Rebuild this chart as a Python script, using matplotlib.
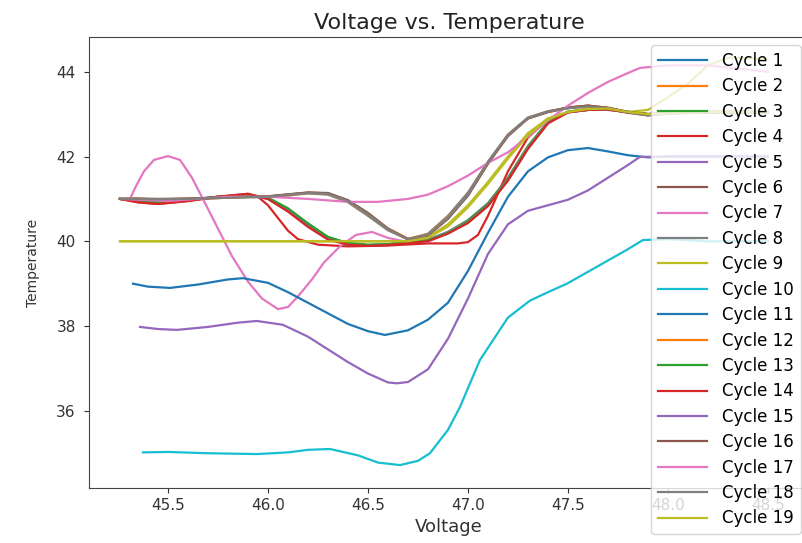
import matplotlib
matplotlib.use('Agg')
import matplotlib.pyplot as plt

# voltage grid shared by the cycles in the main bundle
volt_grid = [45.26, 45.35, 45.45, 45.6, 45.75, 45.9, 46.0, 46.1, 46.2, 46.3,
             46.4, 46.5, 46.6, 46.7, 46.8, 46.9, 47.0, 47.1, 47.2, 47.3,
             47.4, 47.5, 47.6, 47.7, 47.8, 47.9, 48.0, 48.2, 48.5]

temp_c1 = [41.0, 40.96, 40.93, 40.98, 41.05, 41.1, 41.0, 40.72, 40.36, 40.06, 39.94, 39.9, 39.92, 39.97,
           40.02, 40.2, 40.45, 40.85, 41.45, 42.2, 42.8, 43.05, 43.1, 43.12, 43.05, 43.0, 43.03, 43.05, 43.05]
temp_c2 = [41.0, 41.0, 40.98, 41.0, 41.03, 41.05, 41.05, 41.1, 41.14, 41.12, 40.95, 40.66, 40.3, 40.06,
           40.15, 40.55, 41.1, 41.85, 42.5, 42.9, 43.05, 43.15, 43.2, 43.15, 43.05, 42.98, 43.02, 43.05, 43.05]
temp_c3 = [41.0, 40.95, 40.92, 40.97, 41.05, 41.1, 41.02, 40.76, 40.42, 40.1, 39.95, 39.91, 39.93, 39.98,
           40.03, 40.22, 40.5, 40.9, 41.5, 42.25, 42.82, 43.06, 43.12, 43.13, 43.06, 43.0, 43.03, 43.05, 43.05]
temp_c5 = [41.0, 40.97, 40.95, 40.99, 41.04, 41.08, 41.01, 40.74, 40.38, 40.08, 39.95, 39.91, 39.93, 39.98,
           40.04, 40.22, 40.48, 40.88, 41.48, 42.22, 42.8, 43.04, 43.1, 43.11, 43.04, 43.0, 43.02, 43.04, 43.04]
temp_c6 = [41.0, 41.01, 41.0, 41.01, 41.03, 41.06, 41.06, 41.11, 41.15, 41.13, 40.96, 40.65, 40.28, 40.04,
           40.14, 40.54, 41.08, 41.83, 42.48, 42.9, 43.06, 43.16, 43.2, 43.14, 43.04, 42.97, 43.02, 43.05, 43.05]
temp_c8 = [41.0, 40.99, 40.98, 40.99, 41.02, 41.04, 41.04, 41.08, 41.13, 41.1, 40.92, 40.6, 40.26, 40.05,
           40.18, 40.6, 41.15, 41.88, 42.52, 42.92, 43.07, 43.14, 43.18, 43.12, 43.03, 42.97, 43.01, 43.04, 43.04]
temp_c12 = [41.0, 41.0, 40.99, 41.0, 41.02, 41.05, 41.05, 41.09, 41.14, 41.12, 40.94, 40.64, 40.3, 40.06,
            40.16, 40.56, 41.1, 41.84, 42.5, 42.9, 43.05, 43.15, 43.19, 43.14, 43.05, 42.98, 43.02, 43.05, 43.05]
temp_c13 = [41.0, 40.95, 40.93, 40.98, 41.05, 41.1, 41.03, 40.78, 40.42, 40.1, 39.96, 39.92, 39.93, 39.98,
            40.02, 40.2, 40.46, 40.86, 41.46, 42.2, 42.8, 43.05, 43.1, 43.12, 43.05, 43.0, 43.03, 43.05, 43.05]
temp_c14 = [41.0, 40.92, 40.88, 40.95, 41.05, 41.12, 41.0, 40.7, 40.34, 40.04, 39.92, 39.89, 39.91, 39.96,
            40.0, 40.18, 40.43, 40.83, 41.43, 42.18, 42.78, 43.04, 43.1, 43.11, 43.04, 43.0, 43.03, 43.05, 43.05]
temp_c16 = [41.0, 41.0, 40.99, 41.0, 41.03, 41.05, 41.06, 41.1, 41.15, 41.14, 40.97, 40.67, 40.3, 40.05,
            40.14, 40.53, 41.08, 41.84, 42.5, 42.9, 43.05, 43.15, 43.2, 43.15, 43.05, 42.98, 43.02, 43.05, 43.05]
temp_c18 = [41.0, 41.0, 40.99, 41.0, 41.02, 41.04, 41.05, 41.1, 41.14, 41.12, 40.95, 40.64, 40.29, 40.05,
            40.15, 40.55, 41.1, 41.85, 42.5, 42.9, 43.05, 43.14, 43.18, 43.14, 43.05, 42.98, 43.02, 43.05, 43.05]

# cycle 4: drops first, rises last
volt_c4 = [45.26, 45.35, 45.45, 45.6, 45.75, 45.9, 45.95, 46.0, 46.05, 46.1, 46.15, 46.25, 46.4, 46.6,
           46.8, 46.95, 47.0, 47.05, 47.1, 47.2, 47.3, 47.4, 47.5, 47.6, 47.7, 47.8, 47.9, 48.0, 48.2, 48.5]
temp_c4 = [41.0, 40.92, 40.88, 40.95, 41.05, 41.12, 41.05, 40.85, 40.55, 40.25, 40.05, 39.92, 39.88, 39.9,
           39.95, 39.95, 39.98, 40.15, 40.6, 41.65, 42.45, 42.88, 43.05, 43.1, 43.1, 43.05, 43.0, 43.02, 43.05, 43.05]

# cycle 7: oscillating
volt_c7 = [45.31, 45.34, 45.38, 45.43, 45.5, 45.56, 45.62, 45.68, 45.75, 45.82, 45.9, 45.97, 46.05, 46.1,
           46.15, 46.22, 46.28, 46.36, 46.44, 46.52, 46.6, 46.7, 46.8, 46.9, 47.0, 47.1, 47.2, 47.3, 47.4,
           47.5, 47.6, 47.7, 47.8, 47.9, 48.0, 48.2, 48.5]
temp_c7 = [41.0, 41.3, 41.65, 41.92, 42.01, 41.92, 41.5, 40.95, 40.3, 39.65, 39.05, 38.65, 38.4, 38.45,
           38.7, 39.1, 39.5, 39.88, 40.15, 40.22, 40.08, 39.98, 40.0, 40.2, 40.45, 40.85, 41.45, 42.2, 42.8,
           43.05, 43.1, 43.12, 43.05, 43.0, 43.03, 43.05, 43.05]

# cycles 9 and 19: flat at 40
volt_c9 = [45.26, 45.5, 45.8, 46.1, 46.4, 46.6, 46.7, 46.8, 46.9, 47.0, 47.1, 47.2, 47.3, 47.4, 47.5,
           47.6, 47.7, 47.8, 47.9, 48.0, 48.1, 48.2, 48.3, 48.5]
temp_c9 = [40.0, 40.0, 40.0, 40.0, 40.0, 40.0, 40.0, 40.1, 40.4, 40.85, 41.4, 42.0, 42.55, 42.9, 43.05,
           43.15, 43.15, 43.05, 43.1, 43.4, 43.72, 44.15, 44.33, 44.3]
temp_c19 = [40.0, 40.0, 40.0, 40.0, 40.0, 40.0, 40.0, 40.08, 40.35, 40.8, 41.35, 41.95, 42.5, 42.88, 43.05,
            43.12, 43.13, 43.05, 43.0, 43.02, 43.04, 43.05, 43.05, 43.05]

# cycle 10: lowest curve
volt_c10 = [45.375, 45.5, 45.7, 45.945, 46.1, 46.2, 46.31, 46.45, 46.55, 46.66, 46.75, 46.81, 46.9, 46.96,
            47.06, 47.2, 47.31, 47.4, 47.495, 47.645, 47.795, 47.875, 48.0, 48.2, 48.5]
temp_c10 = [35.02, 35.03, 35.0, 34.98, 35.02, 35.08, 35.1, 34.95, 34.78, 34.72, 34.82, 35.0, 35.55, 36.09,
            37.2, 38.2, 38.6, 38.8, 39.0, 39.4, 39.8, 40.03, 40.05, 40.0, 40.0]

# cycle 11
volt_c11 = [45.325, 45.4, 45.51, 45.65, 45.8, 45.875, 46.0, 46.1, 46.2, 46.3, 46.4, 46.5, 46.585, 46.7,
            46.8, 46.9, 47.0, 47.1, 47.2, 47.3, 47.4, 47.5, 47.6, 47.7, 47.8, 47.9, 48.0, 48.2, 48.5]
temp_c11 = [39.0, 38.93, 38.9, 38.98, 39.1, 39.13, 39.02, 38.8, 38.55, 38.3, 38.05, 37.88, 37.79, 37.9,
            38.15, 38.55, 39.3, 40.2, 41.05, 41.65, 41.98, 42.15, 42.2, 42.12, 42.03, 41.98, 42.0, 42.0, 42.0]

# cycle 15
volt_c15 = [45.36, 45.45, 45.545, 45.7, 45.85, 45.945, 46.075, 46.2, 46.3, 46.4, 46.5, 46.6, 46.645, 46.7,
            46.8, 46.9, 47.0, 47.1, 47.2, 47.3, 47.4, 47.5, 47.6, 47.7, 47.8, 47.86, 48.0, 48.2, 48.5]
temp_c15 = [37.98, 37.93, 37.91, 37.98, 38.08, 38.12, 38.03, 37.75, 37.45, 37.15, 36.88, 36.67, 36.65, 36.68,
            36.98, 37.7, 38.65, 39.7, 40.4, 40.72, 40.85, 40.98, 41.2, 41.5, 41.8, 41.99, 42.0, 42.0, 42.0]

# cycle 17: upper curve
volt_c17 = [45.26, 45.5, 45.8, 46.0, 46.2, 46.4, 46.55, 46.7, 46.8, 46.9, 47.0, 47.1, 47.2, 47.3, 47.4,
            47.5, 47.6, 47.7, 47.8, 47.86, 48.0, 48.2, 48.5]
temp_c17 = [41.0, 40.95, 41.05, 41.05, 41.0, 40.93, 40.93, 41.0, 41.1, 41.3, 41.55, 41.85, 42.1, 42.47, 42.85,
            43.2, 43.5, 43.76, 43.97, 44.09, 44.15, 44.15, 44.0]

cycles = [
    (volt_grid, temp_c1), (volt_grid, temp_c2), (volt_grid, temp_c3), (volt_c4, temp_c4),
    (volt_grid, temp_c5), (volt_grid, temp_c6), (volt_c7, temp_c7), (volt_grid, temp_c8),
    (volt_c9, temp_c9), (volt_c10, temp_c10), (volt_c11, temp_c11), (volt_grid, temp_c12),
    (volt_grid, temp_c13), (volt_grid, temp_c14), (volt_c15, temp_c15), (volt_grid, temp_c16),
    (volt_c17, temp_c17), (volt_grid, temp_c18), (volt_c9, temp_c19),
]

fig = plt.figure(figsize=(8.03, 5.43), dpi=100)
ax = fig.add_axes([0.1108, 0.1013, 0.8966, 0.8306])

for i, (v, t) in enumerate(cycles):
    ax.plot(v, t, label='Cycle {}'.format(i + 1), linewidth=1.6)

ax.set_xlim(45.105, 48.705)
ax.set_ylim(34.18, 44.82)
ax.set_xticks([45.5, 46.0, 46.5, 47.0, 47.5, 48.0, 48.5])
ax.set_yticks([36, 38, 40, 42, 44])
ax.tick_params(axis='both', labelsize=11, colors='#333333')
ax.tick_params(axis='y', pad=6)
for s in ax.spines.values():
    s.set_color('#444444')

ax.set_title('Voltage vs. Temperature', fontsize=16, color='#222222')
ax.set_xlabel('Voltage', fontsize=13, color='#333333')
ax.set_ylabel('Temperature', fontsize=10, color='#333333', labelpad=12)

ax.legend(loc='upper right', fontsize=12, labelspacing=0.445, handlelength=2.95,
          handletextpad=0.9, borderpad=0.4)

fig.savefig('out.png', dpi=100)
